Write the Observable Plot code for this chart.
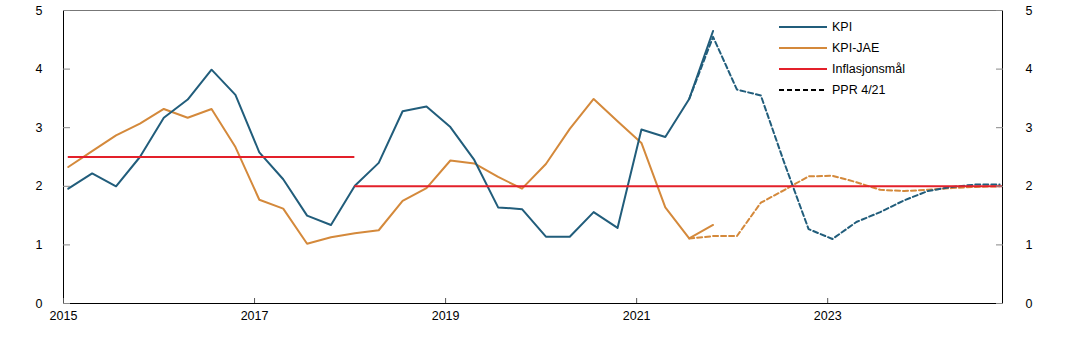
<!DOCTYPE html>
<html><head><meta charset="utf-8">
<script src="https://cdn.jsdelivr.net/npm/d3@7"></script>
<script src="https://cdn.jsdelivr.net/npm/@observablehq/plot@0.6"></script>
<style>
body{margin:0;background:#fff;font-family:Arial,"Liberation Sans",sans-serif}
#wrap{position:relative;width:1075px;height:337px}
#legend{position:absolute;left:779px;top:16px;font-size:12.5px;color:#000}
#legend .row{display:flex;align-items:center;height:21px}
#legend svg{margin-right:5px}
</style>
</head><body><div id="wrap"><div id="legend"></div></div>
<script>
// Quarter labels 2015K1 .. 2024K4
const years = [2015,2016,2017,2018,2019,2020,2021,2022,2023,2024];
const quarters = years.flatMap(y => [1,2,3,4].map(q => `${y}K${q}`));

// Observed series 2015K1 .. 2021K4
const kpi = [1.96,2.22,2.00,2.50,3.17,3.48,3.99,3.56,2.58,2.12,1.50,1.34,2.01,2.40,3.28,3.36,3.01,2.45,1.64,1.61,1.14,1.14,1.56,1.29,2.97,2.84,3.49,4.65];
const kpiJae = [2.33,2.60,2.87,3.07,3.32,3.17,3.32,2.67,1.77,1.62,1.02,1.13,1.20,1.25,1.75,1.97,2.44,2.39,2.16,1.96,2.38,2.98,3.49,3.11,2.74,1.64,1.11,1.34];

// PPR 4/21 projections, 2021K3 .. 2024K4
const pprFirst = "2021K3";
const pprKpi = [3.49,4.55,3.65,3.55,2.38,1.27,1.10,1.39,1.56,1.76,1.92,1.99,2.03,2.03];
const pprJae = [1.11,1.15,1.15,1.72,1.94,2.17,2.18,2.07,1.94,1.92,1.94,1.97,1.99,2.00];

// Inflation target
const targetFrom = ["2015K1","2018K1"];
const targetTo = ["2018K1","2024K4"];
const targetValue = [2.5, 2.0];

const yTicks = [0,1,2,3,4,5];
const xTicks = [2015,2017,2019,2021,2023];

const colors = {kpi:"#215d7b", jae:"#d4893b", target:"#e3202a", ppr:"#000"};

const pos = label => { const [y,q] = label.split("K").map(Number); return y + (q-1)*0.25 + 0.05; };
const xDomain = [2015, 2024.83];

const obs = (arr) => arr.map((v,i) => ({x: pos(quarters[i]), value: v}));
const proj = (arr) => { const s = quarters.indexOf(pprFirst); return arr.map((v,i) => ({x: pos(quarters[s+i]), value: v})); };
const target = targetValue.map((v,i) => ({x1: pos(targetFrom[i]), x2: i === targetValue.length-1 ? xDomain[1] : pos(targetTo[i]), value: v}));

const chart = Plot.plot({
  width: 1075, height: 337,
  marginLeft: 63, marginRight: 73, marginTop: 10, marginBottom: 34,
  style: {fontFamily: "Arial, 'Liberation Sans', sans-serif", fontSize: "12.5px", color: "#000", background: "#fff", overflow: "visible"},
  x: {domain: xDomain, label: null},
  y: {domain: [0,5], label: null},
  marks: [
    Plot.line(obs(kpiJae), {x: "x", y: "value", stroke: colors.jae, strokeWidth: 2}),
    Plot.line(proj(pprJae), {x: "x", y: "value", stroke: colors.jae, strokeWidth: 2, strokeDasharray: "5,3"}),
    Plot.line(obs(kpi), {x: "x", y: "value", stroke: colors.kpi, strokeWidth: 2}),
    Plot.line(proj(pprKpi), {x: "x", y: "value", stroke: colors.kpi, strokeWidth: 2, strokeDasharray: "5,3"}),
    Plot.ruleY(target, {x1: "x1", x2: "x2", y: "value", stroke: colors.target, strokeWidth: 2}),
    // frame
    Plot.ruleY([5], {stroke: "#777", strokeWidth: 1}),
    Plot.ruleY([0], {stroke: "#000", strokeWidth: 1}),
    Plot.ruleX([xDomain[0]], {stroke: "#000", strokeWidth: 1}),
    Plot.ruleX([xDomain[1]], {stroke: "#000", strokeWidth: 1}),
    // inward ticks
    Plot.axisY(yTicks, {anchor: "left", tickSize: 7, dx: 7, fill: "none", stroke: "#888"}),
    Plot.axisY(yTicks, {anchor: "right", tickSize: 7, dx: -7, fill: "none", stroke: "#888"}),
    Plot.axisX(xTicks, {anchor: "bottom", tickSize: 5, dy: -5, fill: "none", stroke: "#555"}),
    // labels
    Plot.axisY(yTicks, {anchor: "left", tickSize: 0, tickPadding: 21, tickFormat: d => String(d)}),
    Plot.axisY(yTicks, {anchor: "right", tickSize: 0, tickPadding: 23, tickFormat: d => String(d)}),
    Plot.axisX(xTicks, {anchor: "bottom", tickSize: 0, tickPadding: 8, tickFormat: d => String(d)})
  ]
});
document.getElementById("wrap").prepend(chart);

const legendItems = [
  {label: "KPI", color: colors.kpi, dash: null},
  {label: "KPI-JAE", color: colors.jae, dash: null},
  {label: "Inflasjonsmål", color: colors.target, dash: null},
  {label: "PPR 4/21", color: colors.ppr, dash: "5,3"}
];
const lg = document.getElementById("legend");
for (const it of legendItems) {
  const row = document.createElement("div");
  row.className = "row";
  row.innerHTML = `<svg width="48" height="4"><line x1="0" y1="2" x2="48" y2="2" stroke="${it.color}" stroke-width="2" ${it.dash ? `stroke-dasharray="${it.dash}"` : ""}/></svg><span>${it.label}</span>`;
  lg.appendChild(row);
}
</script>
</body></html>
